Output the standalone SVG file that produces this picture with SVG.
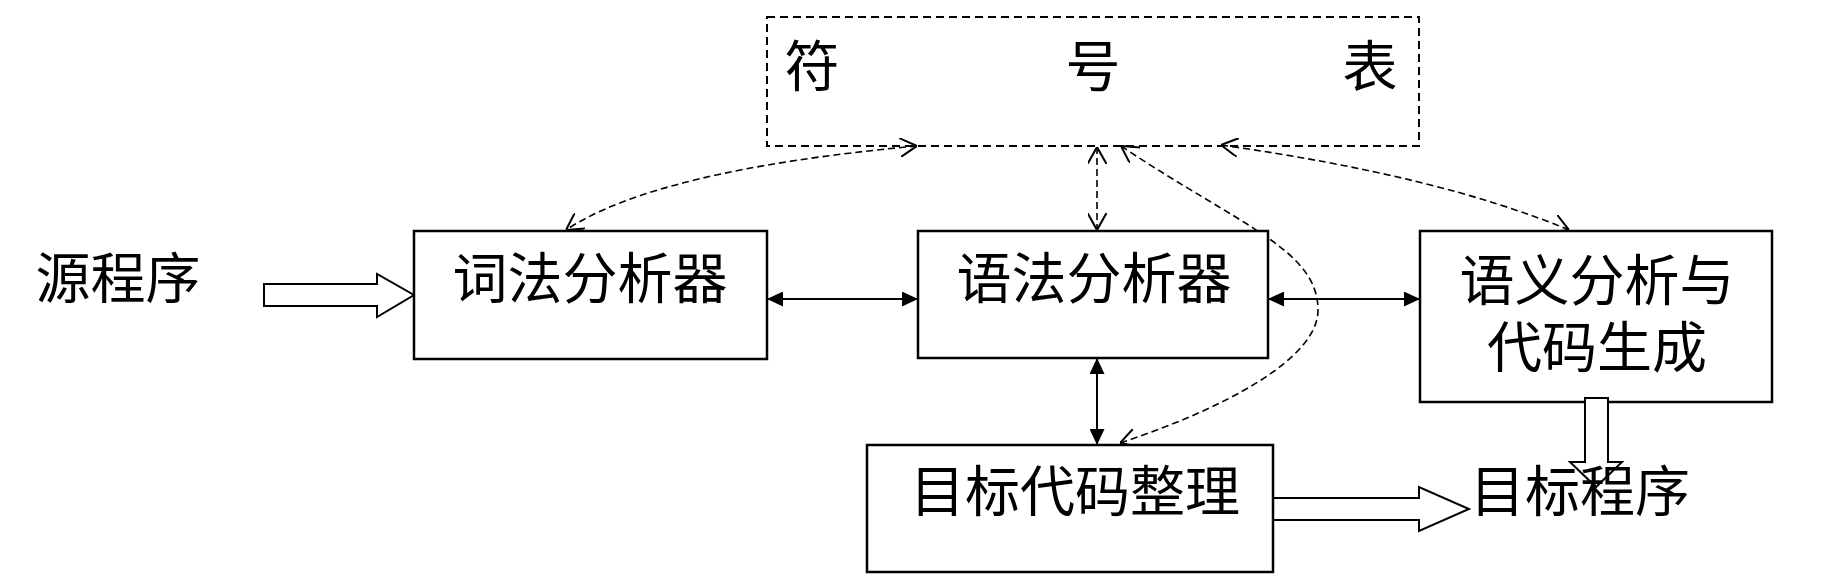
<svg xmlns="http://www.w3.org/2000/svg" width="1836" height="588" viewBox="0 0 1836 588">
<style>
.box{fill:#fff;stroke:#000;stroke-width:2.5}
.dbox{fill:none;stroke:#000;stroke-width:2;stroke-dasharray:8 5}
.t{font-family:"Noto Sans CJK SC","Noto Sans CJK JP",sans-serif;font-size:55px;fill:#000;text-anchor:middle}
.solid{fill:none;stroke:#000;stroke-width:2;marker-start:url(#fa);marker-end:url(#fa)}
.dash{fill:none;stroke:#000;stroke-width:1.6;stroke-dasharray:7 4;marker-start:url(#oa);marker-end:url(#oa)}
.hollow{fill:#fff;stroke:#000;stroke-width:2}
</style>
<defs>
<marker id="fa" viewBox="0 0 10 10" refX="10" refY="5" markerWidth="16" markerHeight="15" markerUnits="userSpaceOnUse" orient="auto-start-reverse" preserveAspectRatio="none">
<path d="M0,0 L10,5 L0,10 Z" fill="#000"/>
</marker>
<marker id="oa" viewBox="0 0 10 10" refX="10" refY="5" markerWidth="17" markerHeight="19" markerUnits="userSpaceOnUse" orient="auto-start-reverse" preserveAspectRatio="none">
<path d="M0,0 L10,5 L0,10" fill="none" stroke="#000" stroke-width="1.1"/>
</marker>
</defs>
<rect width="1836" height="588" fill="#fff"/>
<g id="symtab">
<rect class="dbox" x="767" y="17" width="652" height="129"/>
<text class="t" x="812" y="86">符</text>
<text class="t" x="1093" y="86">号</text>
<text class="t" x="1370" y="86">表</text>
</g>
<g id="connectors">
<path class="dash" d="M917,146 Q656,170 566,230"/>
<path class="dash" d="M1097,147 L1097,230"/>
<path class="dash" d="M1221,145 Q1440,176 1569,230"/>
<path class="dash" d="M1121,146 C1241,226 1318,250 1318,310 C1318,360 1220,410 1120,443"/>
<path class="solid" d="M767,299 L918,299"/>
<path class="solid" d="M1268,299 L1420,299"/>
<path class="solid" d="M1097,358 L1097,445"/>
<path class="hollow" d="M264,284 L377,284 L377,274 L414,295 L377,317 L377,306 L264,306 Z"/>
<path class="hollow" d="M1272,498 L1419,498 L1419,487 L1469,509 L1419,531 L1419,520 L1272,520 Z"/>
</g>
<g id="src">
<text class="t" x="118" y="298">源程序</text>
</g>
<g id="lexer">
<rect class="box" x="414" y="231" width="353" height="128"/>
<text class="t" x="590" y="298">词法分析器</text>
</g>
<g id="parser">
<rect class="box" x="918" y="231" width="350" height="127"/>
<text class="t" x="1094" y="298">语法分析器</text>
</g>
<g id="semantic">
<rect class="box" x="1420" y="231" width="352" height="171"/>
<text class="t" x="1597" y="300"><tspan x="1597" y="300">语义分析与</tspan><tspan x="1597" y="367">代码生成</tspan></text>
</g>
<g id="optimizer">
<rect class="box" x="867" y="445" width="406" height="127"/>
<text class="t" x="1075" y="511">目标代码整理</text>
</g>
<g id="downarrow">
<path class="hollow" d="M1585,398 L1608,398 L1608,462 L1622,462 L1596,487 L1570,462 L1585,462 Z"/>
</g>
<g id="target">
<text class="t" x="1580" y="511">目标程序</text>
</g>
</svg>
